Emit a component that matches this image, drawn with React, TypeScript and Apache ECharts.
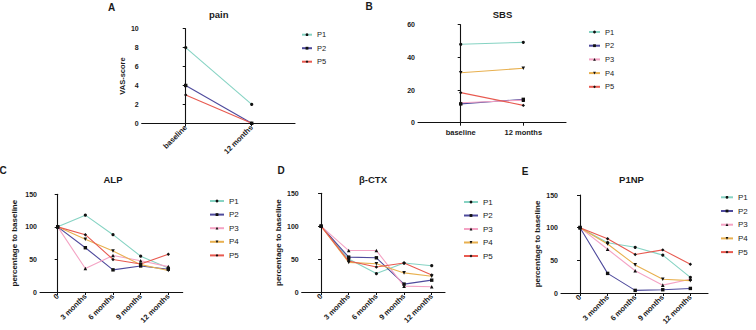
import React, { useEffect, useRef } from "react";
import * as echarts from "echarts";

const lineColors = ["#86d3c3", "#4e4a9c", "#f4a3c4", "#e8b04f", "#e85a50"];
const symbols = ["circle", "rect", "triangle", "triangle", "diamond"];
const symbolRotates = [0, 0, 0, 180, 0];
const symbolSizes = [3.2, 3.4, 3.6, 3.6, 3.4];

const twoCats = ["baseline", "12 months"];
const timeCats = ["0", "3 months", "6 months", "9 months", "12 months"];

// A: pain (VAS-score)
const painP1 = [8, 2];
const painP2 = [4, 0];
const painP5 = [3, 0];

// B: SBS
const sbsP1 = [48, 49.2];
const sbsP2 = [11.5, 14.3];
const sbsP3 = [12.2, 13.8];
const sbsP4 = [30.6, 33.3];
const sbsP5 = [18.4, 10.6];

// C: ALP (% of baseline)
const alpP1 = [100, 118, 88, 55, 37];
const alpP2 = [100, 68, 34, 40, 35];
const alpP3 = [100, 36, 56, 48, 39];
const alpP4 = [100, 81, 63, 42, 33];
const alpP5 = [100, 88, 50, 43, 58];

// D: beta-CTX (% of baseline)
const ctxP1 = [100, 50, 28, 44, 40];
const ctxP2 = [100, 53, 52, 12, 18];
const ctxP3 = [100, 63, 63, 9, 8];
const ctxP4 = [100, 45, 43, 29, 24];
const ctxP5 = [100, 47, 38, 44, 26];

// E: P1NP (% of baseline)
const p1npP1 = [100, 77, 70, 58, 24];
const p1npP2 = [100, 30, 4, 5, 7];
const p1npP3 = [100, 67, 34, 12, 21];
const p1npP4 = [100, 75, 43, 21, 19];
const p1npP5 = [100, 83, 59, 66, 44];

const FONT = "Liberation Sans, Arial, sans-serif";
const TXT = "#1a1a1a";

type Panel = {
  cats: string[];
  series: { idx: number; data: number[] }[];
  grid: { left: number; top: number; right: number; bottom: number };
  xMin: number;
  xMax: number;
  yMax: number;
  yInterval: number;
  yName: string;
  yNameGap: number;
  yNameSize: number;
  rotate: number;
  legend: { left: number; top: number; itemWidth: number; gap: number; size: number };
};

const panels: Panel[] = [
  {
    cats: twoCats,
    series: [
      { idx: 0, data: painP1 },
      { idx: 1, data: painP2 },
      { idx: 4, data: painP5 },
    ],
    grid: { left: 141.7, top: 28.7, right: 295, bottom: 123.3 },
    xMin: -0.667,
    xMax: 1.656,
    yMax: 10,
    yInterval: 2,
    yName: "VAS-score",
    yNameGap: 15,
    yNameSize: 7.5,
    rotate: 45,
    legend: { left: 301, top: 30.7, itemWidth: 10, gap: 5.5, size: 7.5 },
  },
  {
    cats: twoCats,
    series: [
      { idx: 0, data: sbsP1 },
      { idx: 1, data: sbsP2 },
      { idx: 2, data: sbsP3 },
      { idx: 3, data: sbsP4 },
      { idx: 4, data: sbsP5 },
    ],
    grid: { left: 418, top: 24.7, right: 566, bottom: 122.7 },
    xMin: -0.682,
    xMax: 1.682,
    yMax: 60,
    yInterval: 20,
    yName: "",
    yNameGap: 15,
    yNameSize: 7.5,
    rotate: 0,
    legend: { left: 588, top: 28, itemWidth: 11, gap: 5.7, size: 7.5 },
  },
  {
    cats: timeCats,
    series: [
      { idx: 0, data: alpP1 },
      { idx: 1, data: alpP2 },
      { idx: 2, data: alpP3 },
      { idx: 3, data: alpP4 },
      { idx: 4, data: alpP5 },
    ],
    grid: { left: 40, top: 194.3, right: 182.7, bottom: 292 },
    xMin: -0.64,
    xMax: 4.52,
    yMax: 150,
    yInterval: 50,
    yName: "percentage to baseline",
    yNameGap: 22,
    yNameSize: 8,
    rotate: 45,
    legend: { left: 209, top: 197, itemWidth: 14, gap: 5.6, size: 8 },
  },
  {
    cats: timeCats,
    series: [
      { idx: 0, data: ctxP1 },
      { idx: 1, data: ctxP2 },
      { idx: 2, data: ctxP3 },
      { idx: 3, data: ctxP4 },
      { idx: 4, data: ctxP5 },
    ],
    grid: { left: 301.7, top: 193.3, right: 445, bottom: 292 },
    xMin: -0.7,
    xMax: 4.48,
    yMax: 150,
    yInterval: 50,
    yName: "percentage to baseline",
    yNameGap: 19.5,
    yNameSize: 8,
    rotate: 45,
    legend: { left: 463, top: 198, itemWidth: 14, gap: 5.5, size: 8 },
  },
  {
    cats: timeCats,
    series: [
      { idx: 0, data: p1npP1 },
      { idx: 1, data: p1npP2 },
      { idx: 2, data: p1npP3 },
      { idx: 3, data: p1npP4 },
      { idx: 4, data: p1npP5 },
    ],
    grid: { left: 561, top: 195, right: 708, bottom: 293 },
    xMin: -0.69,
    xMax: 4.64,
    yMax: 150,
    yInterval: 50,
    yName: "percentage to baseline",
    yNameGap: 20,
    yNameSize: 8,
    rotate: 45,
    legend: { left: 720, top: 193.3, itemWidth: 12, gap: 5.7, size: 8 },
  },
];

const patientNames = ["P1", "P2", "P3", "P4", "P5"];

const texts = [
  { t: "A", x: 111.5, y: 7, s: 10 },
  { t: "B", x: 369, y: 6.5, s: 10 },
  { t: "C", x: 3, y: 170, s: 10 },
  { t: "D", x: 281, y: 170.5, s: 10 },
  { t: "E", x: 525, y: 171, s: 10 },
  { t: "pain", x: 218.7, y: 14, s: 9.5 },
  { t: "SBS", x: 502.5, y: 14, s: 9.5 },
  { t: "ALP", x: 113, y: 179, s: 9.5 },
  { t: "β-CTX", x: 373, y: 179.3, s: 9.5 },
  { t: "P1NP", x: 631.5, y: 179.3, s: 9.5 },
];

export default function App() {
  const ref = useRef<HTMLDivElement>(null);
  useEffect(() => {
    if (!ref.current) return;
    const chart = echarts.init(ref.current, undefined, { renderer: "svg" });
    const grid: any[] = [];
    const xAxis: any[] = [];
    const yAxis: any[] = [];
    const legend: any[] = [];
    const series: any[] = [];
    panels.forEach((p, gi) => {
      grid.push({
        left: p.grid.left,
        top: p.grid.top,
        width: p.grid.right - p.grid.left,
        height: p.grid.bottom - p.grid.top,
        containLabel: false,
      });
      const ticks = p.cats.map((_, i) => i);
      xAxis.push({
        type: "value",
        gridIndex: gi,
        min: p.xMin,
        max: p.xMax,
        splitLine: { show: false },
        axisLine: { show: true, lineStyle: { color: "#111", width: 1.1 } },
        axisTick: {
          show: true,
          customValues: ticks,
          length: 3,
          lineStyle: { color: "#111", width: 1 },
        },
        axisLabel: {
          customValues: ticks,
          formatter: (v: number) => p.cats[Math.round(v)] ?? "",
          rotate: p.rotate,
          margin: p.rotate ? 3 : 6,
          fontSize: 7.5,
          fontWeight: "bold",
          fontFamily: FONT,
          color: TXT,
        },
      });
      yAxis.push({
        type: "value",
        gridIndex: gi,
        min: 0,
        max: p.yMax,
        interval: p.yInterval,
        name: p.yName,
        nameLocation: "middle",
        nameGap: p.yNameGap,
        nameTextStyle: {
          fontSize: p.yNameSize,
          fontWeight: "bold",
          fontFamily: FONT,
          color: TXT,
        },
        splitLine: { show: false },
        axisLine: { show: true, lineStyle: { color: "#111", width: 1.1 } },
        axisTick: { show: true, length: 3, lineStyle: { color: "#111", width: 1 } },
        axisLabel: {
          margin: 3,
          fontSize: 7,
          fontWeight: "bold",
          fontFamily: FONT,
          color: TXT,
        },
      });
      legend.push({
        orient: "vertical",
        left: p.legend.left,
        top: p.legend.top,
        itemWidth: p.legend.itemWidth,
        itemHeight: 3.5,
        itemGap: p.legend.gap,
        padding: 0,
        data: p.series.map((s) => patientNames[s.idx]),
        itemStyle: { color: "#111", borderWidth: 0 },
        textStyle: {
          fontSize: p.legend.size,
          fontFamily: FONT,
          color: TXT,
          lineHeight: 8,
        },
        selectedMode: false,
      });
      p.series.forEach((s) => {
        series.push({
          type: "line",
          name: patientNames[s.idx],
          xAxisIndex: gi,
          yAxisIndex: gi,
          data: s.data.map((v, i) => [i, v]),
          symbol: symbols[s.idx],
          symbolRotate: symbolRotates[s.idx],
          symbolSize: symbolSizes[s.idx],
          showSymbol: true,
          itemStyle: { color: "#111" },
          lineStyle: { color: lineColors[s.idx], width: 1.1 },
          z: 2,
        });
      });
    });
    const graphic = texts.map((t) => ({
      type: "text",
      x: t.x,
      y: t.y,
      style: {
        text: t.t,
        font: `bold ${t.s}px ${FONT}`,
        fill: TXT,
        textAlign: "center",
        textVerticalAlign: "middle",
      },
    }));
    chart.setOption({
      animation: false,
      backgroundColor: "#ffffff",
      grid,
      xAxis,
      yAxis,
      legend,
      series,
      graphic,
    });
    return () => chart.dispose();
  }, []);
  return (
    <div
      ref={ref}
      style={{ position: "fixed", left: 0, top: 0, width: 756, height: 330, background: "#fff" }}
    />
  );
}
